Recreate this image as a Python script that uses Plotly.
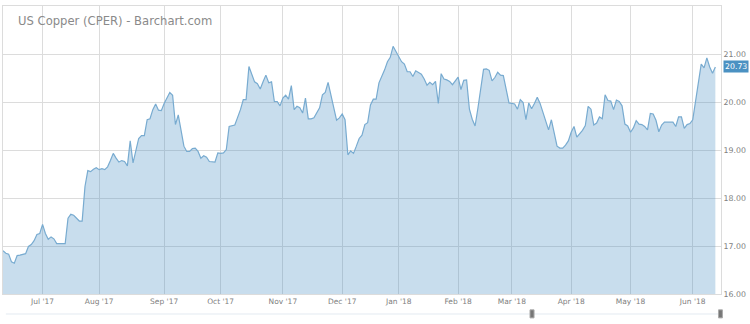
import pandas as pd
import plotly.graph_objects as go

# ---------------- data ----------------
title_text = "US Copper (CPER) - Barchart.com"
start_date = "2017-06-13"
end_date = "2018-06-13"
holidays = ["2017-07-04", "2017-09-04", "2017-11-23", "2017-12-25",
            "2018-01-01", "2018-01-15", "2018-02-19", "2018-03-30", "2018-05-28"]

jun17 = [16.90, 16.85, 16.83, 16.67, 16.64, 16.80, 16.81, 16.83, 16.84, 16.99, 17.03, 17.11, 17.24, 17.26]
jul17 = [17.45, 17.26, 17.14, 17.19, 17.15, 17.05, 17.05, 17.05, 17.05, 17.58, 17.66, 17.64, 17.57, 17.52,
         17.52, 18.24, 18.57, 18.55, 18.60, 18.63]
aug17 = [18.59, 18.61, 18.59, 18.65, 18.78, 18.93, 18.83, 18.75, 18.78, 18.76, 18.67, 19.19, 18.73, 18.97,
         19.24, 19.30, 19.30, 19.63, 19.65, 19.84, 19.96, 19.83, 19.82]
sep17 = [19.97, 20.08, 20.20, 20.14, 19.53, 19.73, 19.44, 19.08, 18.97, 18.97, 19.03, 19.04, 18.97, 18.83,
         18.88, 18.85, 18.76, 18.75, 18.75, 18.94]
oct17 = [18.93, 18.94, 19.01, 19.49, 19.50, 19.52, 19.68, 19.84, 20.05, 20.05, 20.74, 20.59, 20.42, 20.38,
         20.27, 20.42, 20.56, 20.40, 20.42, 20.01, 20.01, 19.92]
nov17 = [20.08, 20.14, 20.06, 20.34, 19.84, 19.91, 19.88, 19.77, 20.08, 19.65, 19.65, 19.67, 19.77, 19.88,
         20.15, 20.20, 20.41, 20.13, 19.84, 19.62, 19.67]
dec17 = [19.75, 19.63, 18.90, 18.98, 18.93, 19.08, 19.24, 19.31, 19.53, 19.57, 19.94, 20.06, 20.06, 20.40,
         20.53, 20.67, 20.84, 20.93, 21.16, 21.05]
jan18 = [20.96, 20.84, 20.79, 20.63, 20.63, 20.53, 20.65, 20.61, 20.58, 20.48, 20.35, 20.41, 20.36, 20.43,
         19.97, 20.59, 20.48, 20.46, 20.43, 20.36, 20.45]
feb18 = [20.52, 20.26, 20.45, 20.46, 19.85, 19.64, 19.50, 19.87, 20.32, 20.68, 20.69, 20.66, 20.44, 20.51,
         20.62, 20.56, 20.55, 20.27, 19.98]
mar18 = [19.97, 19.96, 19.85, 20.05, 19.99, 19.63, 19.98, 19.86, 19.97, 20.10, 19.97, 19.78, 19.62, 19.42,
         19.63, 19.32, 19.08, 19.04, 19.04, 19.10, 19.19]
apr18 = [19.37, 19.49, 19.27, 19.34, 19.41, 19.51, 19.91, 19.85, 19.52, 19.56, 19.69, 19.65, 20.15, 20.03,
         20.02, 19.84, 20.04, 20.01, 19.92, 19.54, 19.50]
may18 = [19.37, 19.46, 19.61, 19.54, 19.53, 19.49, 19.42, 19.76, 19.75, 19.62, 19.38, 19.52, 19.58, 19.58,
         19.58, 19.58, 19.49, 19.69, 19.69, 19.45, 19.53, 19.55]
jun18 = [19.63, 19.99, 20.38, 20.79, 20.71, 20.92, 20.73, 20.60, 20.73]

tick_dates = ["2017-07-03", "2017-08-01", "2017-09-01", "2017-10-02", "2017-11-01", "2017-12-01",
              "2018-01-02", "2018-02-01", "2018-03-01", "2018-04-02", "2018-05-01", "2018-06-01"]
tick_labels = ["Jul '17", "Aug '17", "Sep '17", "Oct '17", "Nov '17", "Dec '17",
               "Jan '18", "Feb '18", "Mar '18", "Apr '18", "May '18", "Jun '18"]
y_ticks = [16, 17, 18, 19, 20, 21]

# ---------------- build ----------------
closes = jun17 + jul17 + aug17 + sep17 + oct17 + nov17 + dec17 + jan18 + feb18 + mar18 + apr18 + may18 + jun18
dates = pd.bdate_range(start_date, end_date, freq="C", holidays=holidays)
assert len(dates) == len(closes), (len(dates), len(closes))

FONT = "DejaVu Sans"
GRID = "#dcdcdc"

fig = go.Figure()
fig.add_trace(go.Scatter(
    x=dates, y=closes, mode="lines",
    line=dict(color="#78abd0", width=1.2),
    fill="tozeroy", fillcolor="rgba(74,144,194,0.30)",
    hoverinfo="x+y", showlegend=False,
))

last = closes[-1]

fig.update_layout(
    width=750, height=324,
    margin=dict(l=3, r=29, t=6, b=30),
    paper_bgcolor="white", plot_bgcolor="white",
    font=dict(family=FONT, color="#808080"),
    xaxis=dict(
        range=["2017-06-13", "2018-06-15"],
        rangebreaks=[dict(bounds=["sat", "mon"]), dict(values=holidays)],
        tickvals=tick_dates, ticktext=tick_labels,
        tickfont=dict(size=7.5, color="#808080"),
        showgrid=True, gridcolor=GRID, gridwidth=1,
        showline=True, linecolor=GRID, linewidth=1, mirror=True,
        ticks="", zeroline=False, fixedrange=True,
    ),
    yaxis=dict(
        side="right", range=[16, 22.0],
        tickvals=y_ticks, tickformat=".2f",
        tickfont=dict(size=7.8, color="#808080"),
        showgrid=True, gridcolor=GRID, gridwidth=1,
        showline=True, linecolor=GRID, linewidth=1, mirror=True,
        ticks="", zeroline=False, fixedrange=True,
    ),
    annotations=[
        dict(text=title_text, xref="paper", yref="paper", x=0.0, y=1.0,
             xanchor="left", yanchor="top", xshift=13, yshift=-6, showarrow=False,
             font=dict(family=FONT, size=11.6, color="#8a8a8a")),
        dict(text=f"{last:.2f}", xref="paper", yref="y", x=1.0, y=last,
             xanchor="left", yanchor="middle", xshift=2, showarrow=False,
             bgcolor="#4b91c2", borderpad=1,
             font=dict(family=FONT, size=7.8, color="white")),
    ],
    shapes=[
        dict(type="line", xref="paper", yref="paper", x0=0.004, x1=0.996, y0=-0.0694, y1=-0.0694,
             line=dict(color="#e3eaf1", width=1)),
        dict(type="rect", xref="paper", yref="paper", x0=0.734, x1=0.7396, y0=-0.083, y1=-0.055,
             line=dict(color="#aaaaaa", width=1), fillcolor="#777777"),
        dict(type="rect", xref="paper", yref="paper", x0=0.9965, x1=1.002, y0=-0.083, y1=-0.055,
             line=dict(color="#aaaaaa", width=1), fillcolor="#777777"),
    ],
)

fig.write_html("out.html")
